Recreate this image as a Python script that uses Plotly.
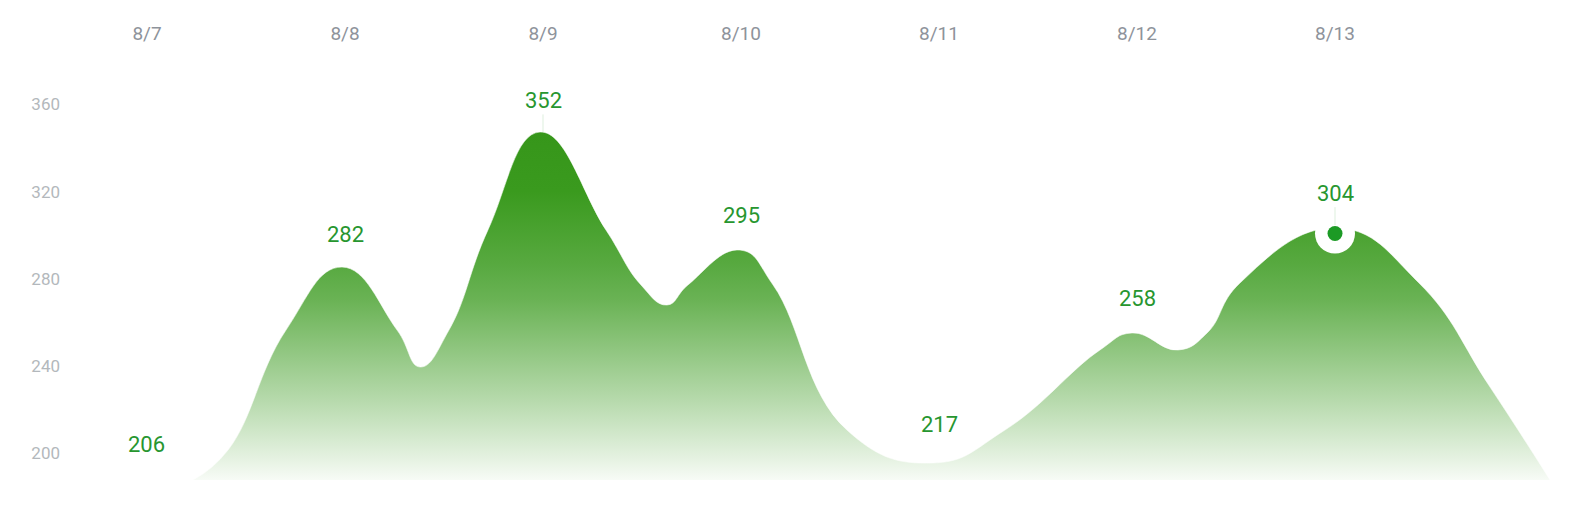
import numpy as np
import plotly.graph_objects as go

# ---- data ----
categories = ["8/7", "8/8", "8/9", "8/10", "8/11", "8/12", "8/13"]
values = [206, 282, 352, 295, 217, 258, 304]
y_ticks = [200, 240, 280, 320, 360]

# outline of the decorative "mountain" area (position in day units, value)
curve_pos = [0.232, 0.409, 0.702, 0.985, 1.263, 1.379, 1.525, 1.722, 1.985, 2.318,
             2.495, 2.626, 2.732, 2.995, 3.162, 3.535, 3.970, 4.333, 4.813, 4.975,
             5.207, 5.354, 5.520, 6.010, 6.424, 6.783, 7.086]
curve_val = [187.8, 201.5, 256.5, 285.4, 256.5, 239.6, 256.5, 302.4, 347.3, 302.4,
             277.2, 268.0, 277.2, 293.2, 277.2, 210.7, 195.6, 210.7, 247.4, 255.2,
             247.4, 255.2, 278.1, 303.3, 278.1, 230.4, 187.8]
highlight = 6  # index of the highlighted day

Y_MIN, Y_MAX = 187.8, 379.4
X_MIN, X_MAX = -0.3636, 7.2828

GREEN = "#27962f"
FONT = "Roboto, 'Noto Sans', sans-serif"

fig = go.Figure()

fig.add_trace(go.Scatter(
    x=curve_pos, y=curve_val, mode="lines",
    line=dict(shape="spline", smoothing=1.3, simplify=False, width=1,
              color="rgba(255,255,255,0.55)"),
    fill="tozeroy",
    fillgradient=dict(
        type="vertical",
        start=Y_MIN, stop=max(curve_val),
        colorscale=[
            [0.00, "rgba(58,154,30,0.04)"],
            [0.06, "rgba(58,154,30,0.13)"],
            [0.23, "rgba(58,154,30,0.37)"],
            [0.37, "rgba(58,154,30,0.56)"],
            [0.52, "rgba(58,154,30,0.76)"],
            [0.62, "rgba(58,154,30,0.85)"],
            [0.83, "rgba(58,154,30,1.0)"],
            [1.00, "rgba(54,150,26,1.0)"],
        ],
    ),
    hoverinfo="skip", showlegend=False,
))

# label anchors follow the drawn outline at each day
anchor = np.interp(np.arange(len(categories)), curve_pos, curve_val)

for i, (cat, v) in enumerate(zip(categories, values)):
    fig.add_annotation(
        x=i, y=anchor[i], text=str(v), showarrow=False,
        yshift=36, yanchor="middle",
        font=dict(family=FONT, size=22, color=GREEN),
    )

# faint leader lines
for i in (2, highlight):
    fig.add_shape(
        type="line", xref="x", yref="y", x0=i, x1=i,
        ysizemode="pixel", yanchor=anchor[i], y0=4, y1=22,
        line=dict(color="rgba(120,190,120,0.25)", width=1),
    )

# highlighted point: white halo with green dot
fig.add_trace(go.Scatter(
    x=[highlight], y=[anchor[highlight] - 2], mode="markers",
    marker=dict(size=40, color="white", line=dict(width=0)),
    hoverinfo="skip", showlegend=False,
))
fig.add_trace(go.Scatter(
    x=[highlight], y=[anchor[highlight] - 2], mode="markers",
    marker=dict(size=15, color="#1c9a25", line=dict(width=0)),
    hoverinfo="skip", showlegend=False,
))

fig.update_layout(
    width=1589, height=518,
    margin=dict(l=75, r=0, t=62, b=38),
    paper_bgcolor="white", plot_bgcolor="white",
    font=dict(family=FONT),
    xaxis=dict(
        range=[X_MIN, X_MAX], side="top",
        tickmode="array", tickvals=list(range(len(categories))), ticktext=categories,
        showgrid=False, zeroline=False, showline=False, ticks="",
        tickfont=dict(size=19, color="#8e939b"),
        ticklabelstandoff=17,
    ),
    yaxis=dict(
        range=[Y_MIN, Y_MAX],
        tickmode="array", tickvals=y_ticks,
        showgrid=False, zeroline=False, showline=False, ticks="",
        tickfont=dict(size=17, color="#b3b8bc"),
        ticklabelstandoff=14,
    ),
)

fig.write_html("out.html", config={"displayModeBar": False},
               post_script="document.body.style.margin='0';")
